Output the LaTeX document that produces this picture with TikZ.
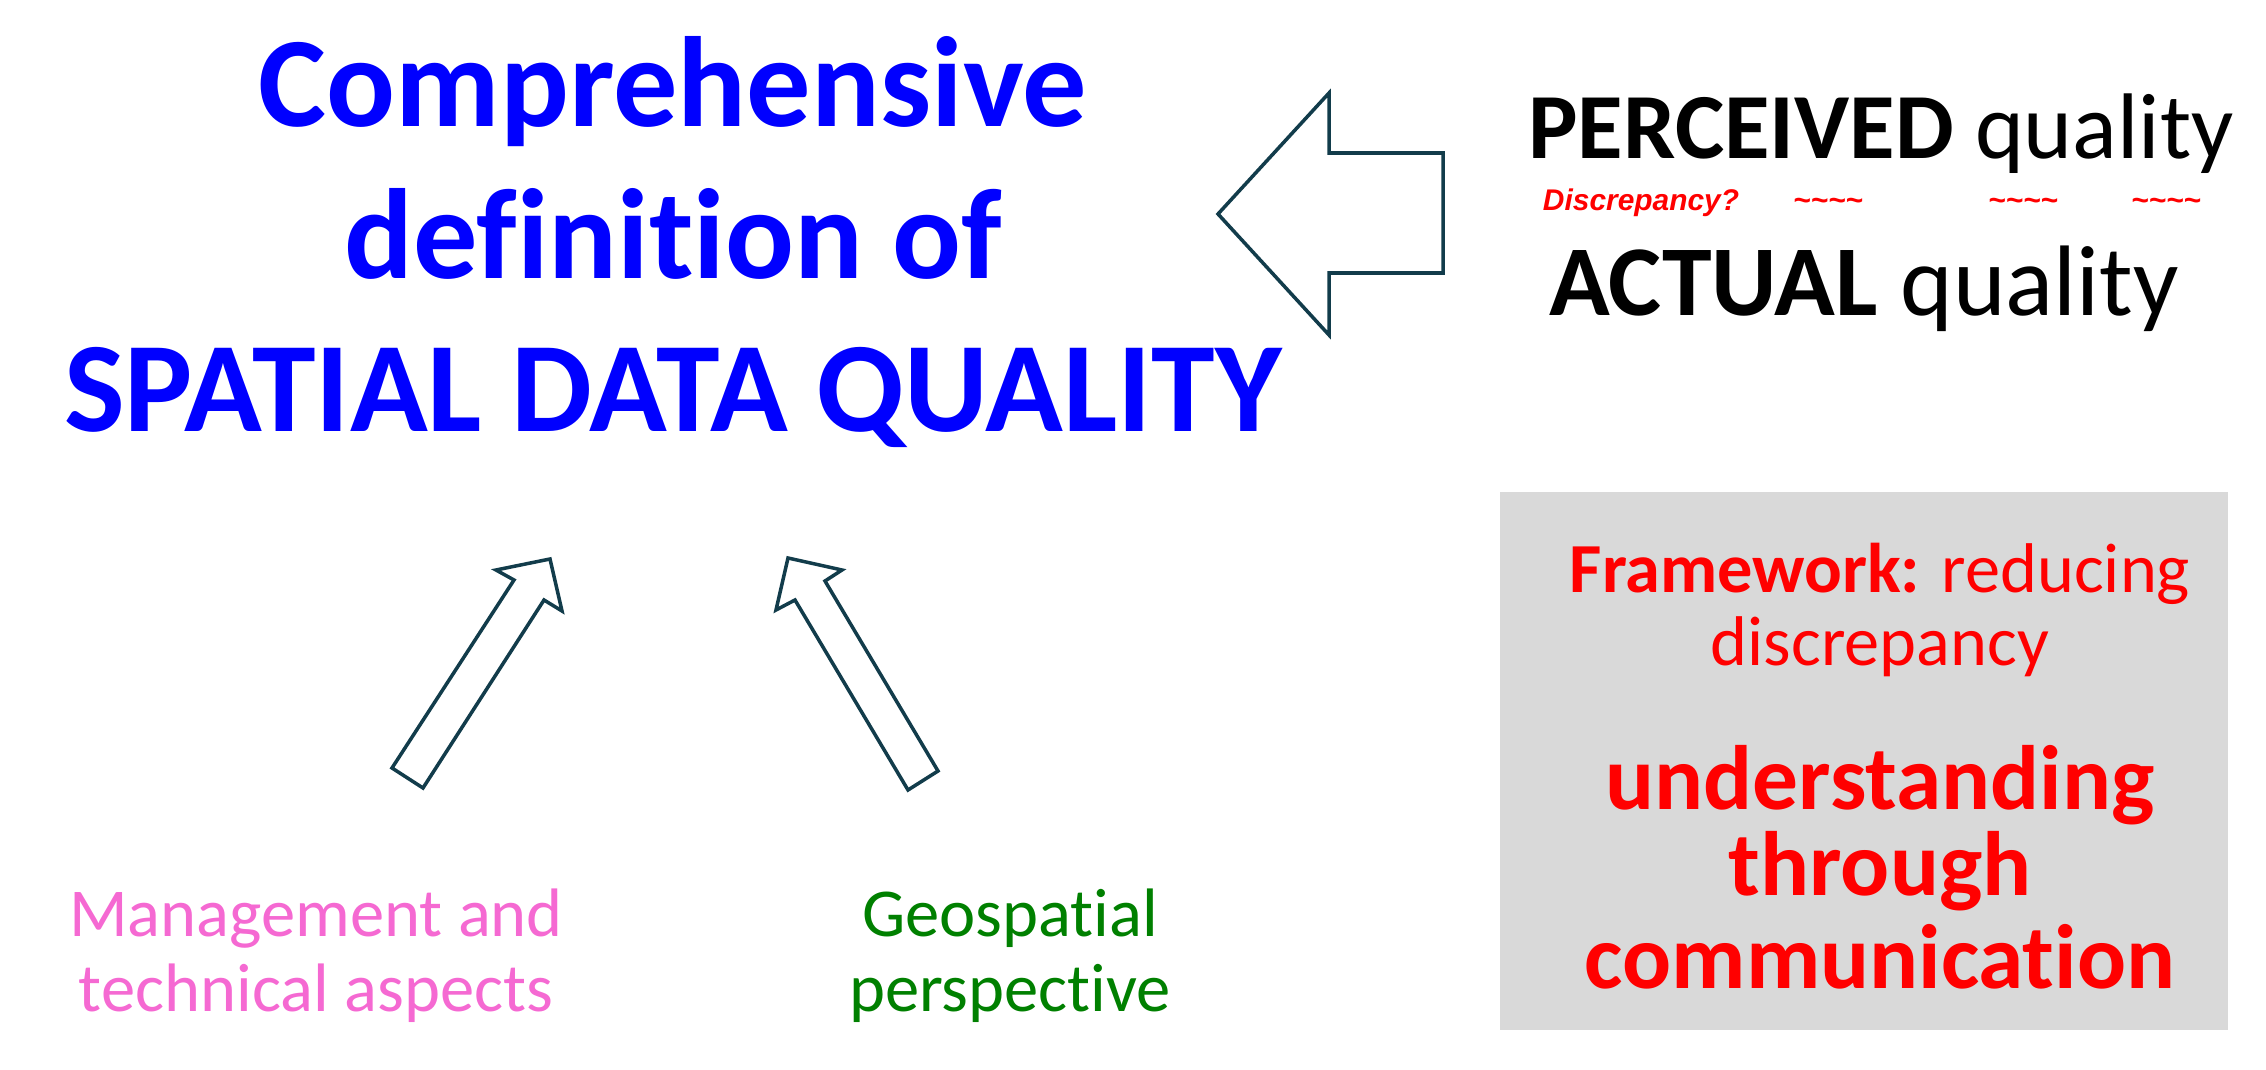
\documentclass[tikz,border=0pt]{standalone}
\usepackage{fontspec}
\setmainfont{Carlito}[Ligatures=NoCommon]
\newfontfamily\discfont{Liberation Sans}
\definecolor{arrowline}{RGB}{18,60,75}
\definecolor{boxgray}{RGB}{217,217,217}
\definecolor{mgmtpink}{RGB}{245,105,210}
\definecolor{geogreen}{RGB}{0,128,0}
\begin{document}
\begin{tikzpicture}[x=0.01cm, y=-0.01cm,
        title/.style={text=blue, font=\fontsize{36.5}{44}\selectfont\bfseries, anchor=base, inner sep=0pt},
        quality/.style={font=\fontsize{26.5}{32}\selectfont, anchor=base, inner sep=0pt},
        disc/.style={text=red, font=\discfont\bfseries\itshape\fontsize{8.5}{10}\selectfont, anchor=base, inner sep=0pt},
        boxline/.style={text=red, anchor=base, inner sep=0pt},
        aspect/.style={font=\fontsize{19.5}{23}\selectfont, anchor=base, inner sep=0pt},
        blockarrow/.style={draw=arrowline, line width=1pt, line join=miter, fill=white}]
        \useasboundingbox (0,0) rectangle (2266,1070);

        \foreach \txt/\yy [count=\i] in {Comprehensive/127, definition of/278, SPATIAL DATA QUALITY/432}
        {
            \node[title] (title\i) at (673,\yy) {\txt};
        }

        \node[quality] (perceived) at (1881,159) {\textbf{PERCEIVED} quality};
        \node[quality, font=\fontsize{28.5}{34}\selectfont] (actual) at (1864,315) {\textbf{ACTUAL} quality};
        \node[disc] (discrepancy) at (1641,211) {Discrepancy?};
        \foreach \xx [count=\i] in {1828,2023,2166}
        {
            \node[disc] (wave\i) at (\xx,211) {\textasciitilde\textasciitilde\textasciitilde\textasciitilde};
        }

        \draw[blockarrow] (1218,214) -- (1329,93) -- (1329,153) -- (1443,153)
            -- (1443,273) -- (1329,273) -- (1329,335) -- cycle;

        \draw[blockarrow] (392,768) -- (514,580) -- (496,570) -- (550,559)
            -- (562,611) -- (544,600) -- (423,788) -- cycle;
        \draw[blockarrow] (938,771) -- (825,581) -- (842,570) -- (788,558)
            -- (776,610) -- (795,600) -- (908,790) -- cycle;

        \foreach \txt/\yy [count=\i] in {Management and/936, technical aspects/1011}
        {
            \node[aspect, text=mgmtpink] (management\i) at (316,\yy) {\txt};
        }
        \foreach \txt/\yy [count=\i] in {Geospatial/936, perspective/1011}
        {
            \node[aspect, text=geogreen] (geospatial\i) at (1010,\yy) {\txt};
        }

        \node[fill=boxgray, minimum width=7.28cm, minimum height=5.38cm] (framebox) at (1864,761) {};
        \node[boxline, font=\fontsize{20}{24}\selectfont] (framework) at (1880,592) {\textbf{Framework:} reducing};
        \node[boxline, font=\fontsize{20}{24}\selectfont] (reducing) at (1880,665) {discrepancy};
        \foreach \txt/\yy [count=\i] in {understanding/809, through/895, communication/988}
        {
            \node[boxline, font=\fontsize{26}{31}\selectfont\bfseries] (message\i) at (1880,\yy) {\txt};
        }
    \end{tikzpicture}
\end{document}
